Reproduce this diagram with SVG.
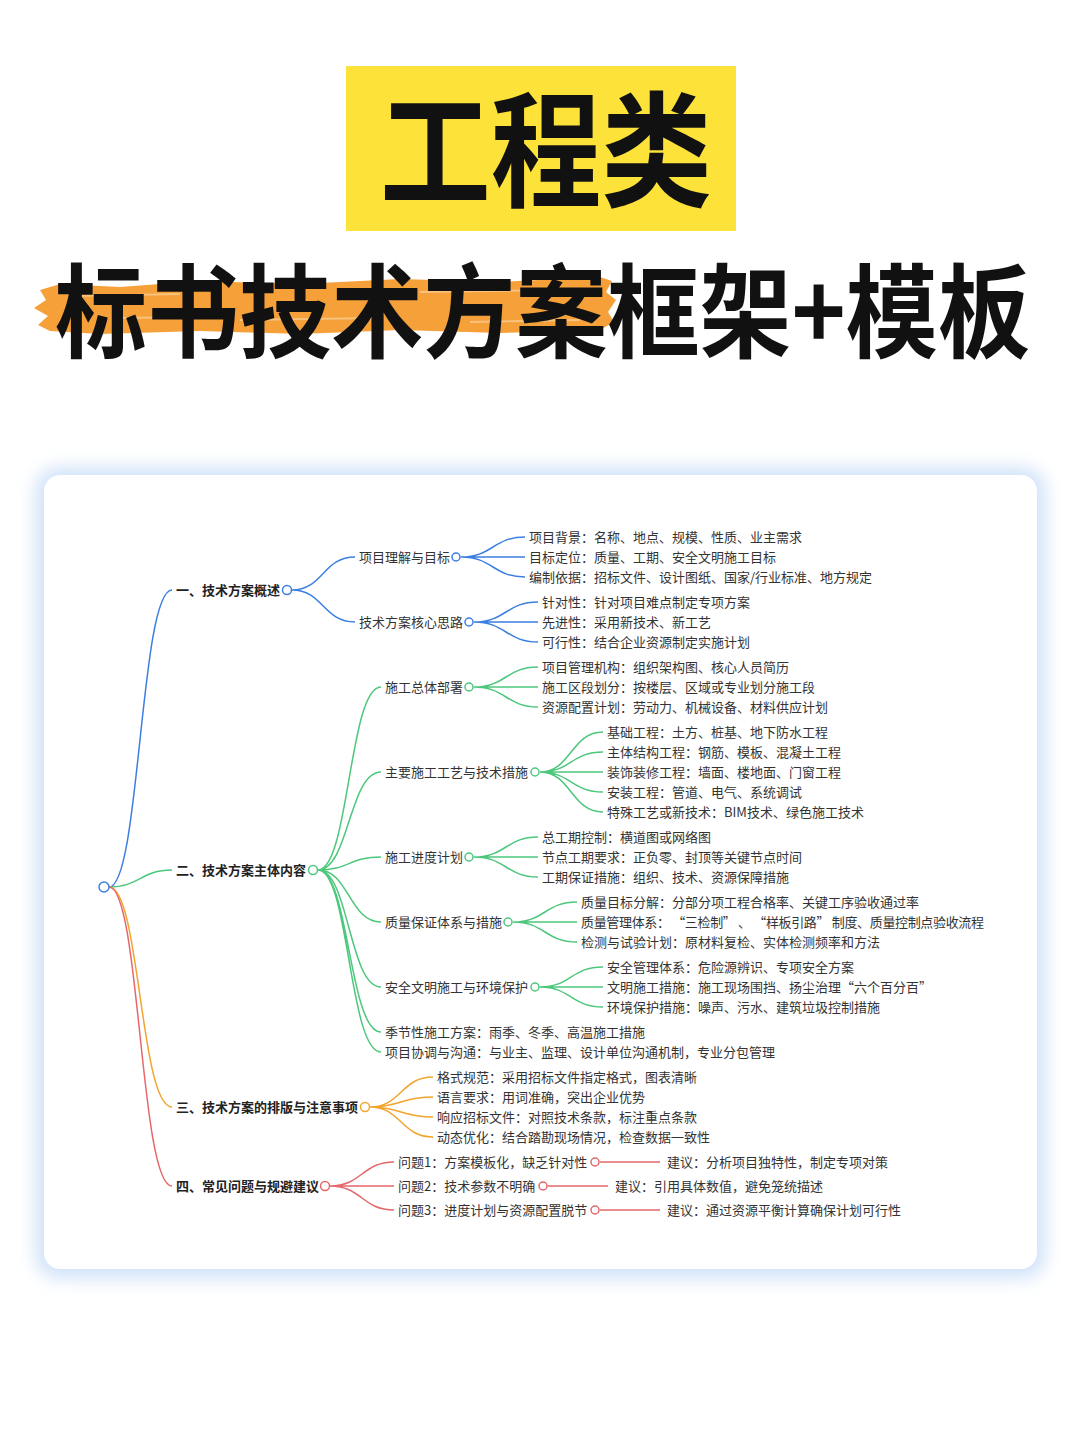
<svg xmlns="http://www.w3.org/2000/svg" width="1080" height="1443" viewBox="0 0 1080 1443">
<defs>
<style>
.t{font-family:"Noto Sans CJK SC","Noto Sans",sans-serif;font-size:13px;fill:#333;dominant-baseline:central}
.b{font-weight:700;fill:#222}
.c{fill:#fff;stroke-width:1.5}
.cb{stroke:#3C7FE0}.cg{stroke:#4CC77C}.co{stroke:#F2A52E}.cr{stroke:#E4676A}
.l{fill:none;stroke-width:1.5}
.title{font-family:"Noto Sans CJK SC",sans-serif;font-weight:700;fill:#111}
</style>
<filter id="glow" x="-10%" y="-10%" width="120%" height="120%">
<feGaussianBlur stdDeviation="9"/>
</filter>
</defs>
<rect width="1080" height="1443" fill="#fff"/>
<g id="title">
<rect x="346" y="66" width="390" height="165" fill="#FDE23A"/>
<text class="title" x="380" y="197" font-size="125" textLength="332" lengthAdjust="spacingAndGlyphs">工程类</text>
<path d="M40,290 L60,284 L120,287 L200,281 L300,284 L400,279 L500,282 L600,277 L612,281 L606,292 L616,300 L608,312 L614,322 L600,330 L500,333 L400,330 L300,334 L200,331 L100,334 L50,331 L38,325 L48,316 L34,308 L46,300 Z" fill="#F6A03A"/>
<path d="M70,296 L180,294 M240,320 L380,318 M420,292 L560,290 M120,318 L200,317 M470,322 L580,320" stroke="#FBD09A" stroke-width="2" fill="none" opacity="0.7"/>
<text class="title" x="55" y="350" font-size="102" textLength="975" lengthAdjust="spacingAndGlyphs">标书技术方案框架+模板</text>
</g>
<rect x="36" y="468" width="1009" height="810" rx="22" fill="#CFE1F8" filter="url(#glow)"/>
<rect x="44" y="475" width="993" height="794" rx="16" fill="#fff"/>
<g id="connectors">
<path class="l cb" d="M109,887 C140,887 140,590 172,590"/>
<path class="l cg" d="M109,887 C140,887 140,870 172,870"/>
<path class="l co" d="M109,887 C140,887 140,1107 172,1107"/>
<path class="l cr" d="M109,887 C140,887 140,1186 172,1186"/>
<path class="l cb" d="M292,590 C323,590 323,557 355,557 M292,590 C323,590 323,622 355,622"/>
<path class="l cb" d="M461,557 C493,557 493,537 525,537 M461,557 L525,557 M461,557 C493,557 493,577 525,577"/>
<path class="l cb" d="M474,622 C506,622 506,602 538,602 M474,622 L538,622 M474,622 C506,622 506,642 538,642"/>
<path class="l cg" d="M318,870 C349,870 349,687 381,687 M318,870 C349,870 349,772 381,772 M318,870 C349,870 349,857 381,857 M318,870 C349,870 349,922 381,922 M318,870 C349,870 349,987 381,987 M318,870 C349,870 349,1032 381,1032 M318,870 C349,870 349,1052 381,1052"/>
<path class="l cg" d="M474,687 C506,687 506,667 538,667 M474,687 L538,687 M474,687 C506,687 506,707 538,707"/>
<path class="l cg" d="M540,772 C571,772 571,732 603,732 M540,772 C571,772 571,752 603,752 M540,772 L603,772 M540,772 C571,772 571,792 603,792 M540,772 C571,772 571,812 603,812"/>
<path class="l cg" d="M474,857 C506,857 506,837 538,837 M474,857 L538,857 M474,857 C506,857 506,877 538,877"/>
<path class="l cg" d="M513,922 C545,922 545,902 577,902 M513,922 L577,922 M513,922 C545,922 545,942 577,942"/>
<path class="l cg" d="M540,987 C571,987 571,967 603,967 M540,987 L603,987 M540,987 C571,987 571,1007 603,1007"/>
<path class="l co" d="M370,1107 C401,1107 401,1077 433,1077 M370,1107 C401,1107 401,1097 433,1097 M370,1107 C401,1107 401,1117 433,1117 M370,1107 C401,1107 401,1137 433,1137"/>
<path class="l cr" d="M330,1186 C362,1186 362,1162 394,1162 M330,1186 L394,1186 M330,1186 C362,1186 362,1210 394,1210"/>
<path class="l cr" d="M600,1162 L660,1162 M548,1186 L608,1186 M600,1210 L660,1210"/>
</g>
<g id="root"><circle class="c cb" cx="104" cy="887" r="5"/></g>
<g id="nodes" transform="translate(0,-1)">
<g id="n1"><text class="t b" x="176" y="590">一、技术方案概述</text><circle class="c cb" cx="287" cy="591" r="4.5"/></g>
<g id="n1-1"><text class="t" x="359" y="557">项目理解与目标</text><circle class="c cb" cx="456" cy="558" r="4"/></g>
<g id="n1-1-1"><text class="t" x="529" y="537">项目背景：名称、地点、规模、性质、业主需求</text></g>
<g id="n1-1-2"><text class="t" x="529" y="557">目标定位：质量、工期、安全文明施工目标</text></g>
<g id="n1-1-3"><text class="t" x="529" y="577">编制依据：招标文件、设计图纸、国家/行业标准、地方规定</text></g>
<g id="n1-2"><text class="t" x="359" y="622">技术方案核心思路</text><circle class="c cb" cx="469" cy="623" r="4"/></g>
<g id="n1-2-1"><text class="t" x="542" y="602">针对性：针对项目难点制定专项方案</text></g>
<g id="n1-2-2"><text class="t" x="542" y="622">先进性：采用新技术、新工艺</text></g>
<g id="n1-2-3"><text class="t" x="542" y="642">可行性：结合企业资源制定实施计划</text></g>
<g id="n2"><text class="t b" x="176" y="870">二、技术方案主体内容</text><circle class="c cg" cx="313" cy="871" r="4.5"/></g>
<g id="n2-1"><text class="t" x="385" y="687">施工总体部署</text><circle class="c cg" cx="469" cy="688" r="4"/></g>
<g id="n2-1-1"><text class="t" x="542" y="667">项目管理机构：组织架构图、核心人员简历</text></g>
<g id="n2-1-2"><text class="t" x="542" y="687">施工区段划分：按楼层、区域或专业划分施工段</text></g>
<g id="n2-1-3"><text class="t" x="542" y="707">资源配置计划：劳动力、机械设备、材料供应计划</text></g>
<g id="n2-2"><text class="t" x="385" y="772">主要施工工艺与技术措施</text><circle class="c cg" cx="535" cy="773" r="4"/></g>
<g id="n2-2-1"><text class="t" x="607" y="732">基础工程：土方、桩基、地下防水工程</text></g>
<g id="n2-2-2"><text class="t" x="607" y="752">主体结构工程：钢筋、模板、混凝土工程</text></g>
<g id="n2-2-3"><text class="t" x="607" y="772">装饰装修工程：墙面、楼地面、门窗工程</text></g>
<g id="n2-2-4"><text class="t" x="607" y="792">安装工程：管道、电气、系统调试</text></g>
<g id="n2-2-5"><text class="t" x="607" y="812">特殊工艺或新技术：BIM技术、绿色施工技术</text></g>
<g id="n2-3"><text class="t" x="385" y="857">施工进度计划</text><circle class="c cg" cx="469" cy="858" r="4"/></g>
<g id="n2-3-1"><text class="t" x="542" y="837">总工期控制：横道图或网络图</text></g>
<g id="n2-3-2"><text class="t" x="542" y="857">节点工期要求：正负零、封顶等关键节点时间</text></g>
<g id="n2-3-3"><text class="t" x="542" y="877">工期保证措施：组织、技术、资源保障措施</text></g>
<g id="n2-4"><text class="t" x="385" y="922">质量保证体系与措施</text><circle class="c cg" cx="508" cy="923" r="4"/></g>
<g id="n2-4-1"><text class="t" x="581" y="902">质量目标分解：分部分项工程合格率、关键工序验收通过率</text></g>
<g id="n2-4-2"><text class="t" x="581" y="922" textLength="403" lengthAdjust="spacing" xml:space="preserve">质量管理体系： “三检制” 、 “样板引路” 制度、质量控制点验收流程</text></g>
<g id="n2-4-3"><text class="t" x="581" y="942">检测与试验计划：原材料复检、实体检测频率和方法</text></g>
<g id="n2-5"><text class="t" x="385" y="987">安全文明施工与环境保护</text><circle class="c cg" cx="535" cy="988" r="4"/></g>
<g id="n2-5-1"><text class="t" x="607" y="967">安全管理体系：危险源辨识、专项安全方案</text></g>
<g id="n2-5-2"><text class="t" x="607" y="987">文明施工措施：施工现场围挡、扬尘治理“六个百分百”</text></g>
<g id="n2-5-3"><text class="t" x="607" y="1007">环境保护措施：噪声、污水、建筑垃圾控制措施</text></g>
<g id="n2-6"><text class="t" x="385" y="1032">季节性施工方案：雨季、冬季、高温施工措施</text></g>
<g id="n2-7"><text class="t" x="385" y="1052">项目协调与沟通：与业主、监理、设计单位沟通机制，专业分包管理</text></g>
<g id="n3"><text class="t b" x="176" y="1107">三、技术方案的排版与注意事项</text><circle class="c co" cx="365" cy="1108" r="4.5"/></g>
<g id="n3-1"><text class="t" x="437" y="1077">格式规范：采用招标文件指定格式，图表清晰</text></g>
<g id="n3-2"><text class="t" x="437" y="1097">语言要求：用词准确，突出企业优势</text></g>
<g id="n3-3"><text class="t" x="437" y="1117">响应招标文件：对照技术条款，标注重点条款</text></g>
<g id="n3-4"><text class="t" x="437" y="1137">动态优化：结合踏勘现场情况，检查数据一致性</text></g>
<g id="n4"><text class="t b" x="176" y="1186">四、常见问题与规避建议</text><circle class="c cr" cx="325" cy="1187" r="4.5"/></g>
<g id="n4-1"><text class="t" x="398" y="1162">问题1：方案模板化，缺乏针对性</text><circle class="c cr" cx="595" cy="1163" r="4"/></g>
<g id="n4-1-1"><text class="t" x="667" y="1162">建议：分析项目独特性，制定专项对策</text></g>
<g id="n4-2"><text class="t" x="398" y="1186">问题2：技术参数不明确</text><circle class="c cr" cx="543" cy="1187" r="4"/></g>
<g id="n4-2-1"><text class="t" x="615" y="1186">建议：引用具体数值，避免笼统描述</text></g>
<g id="n4-3"><text class="t" x="398" y="1210">问题3：进度计划与资源配置脱节</text><circle class="c cr" cx="595" cy="1211" r="4"/></g>
<g id="n4-3-1"><text class="t" x="667" y="1210">建议：通过资源平衡计算确保计划可行性</text></g>
</g>
</svg>
